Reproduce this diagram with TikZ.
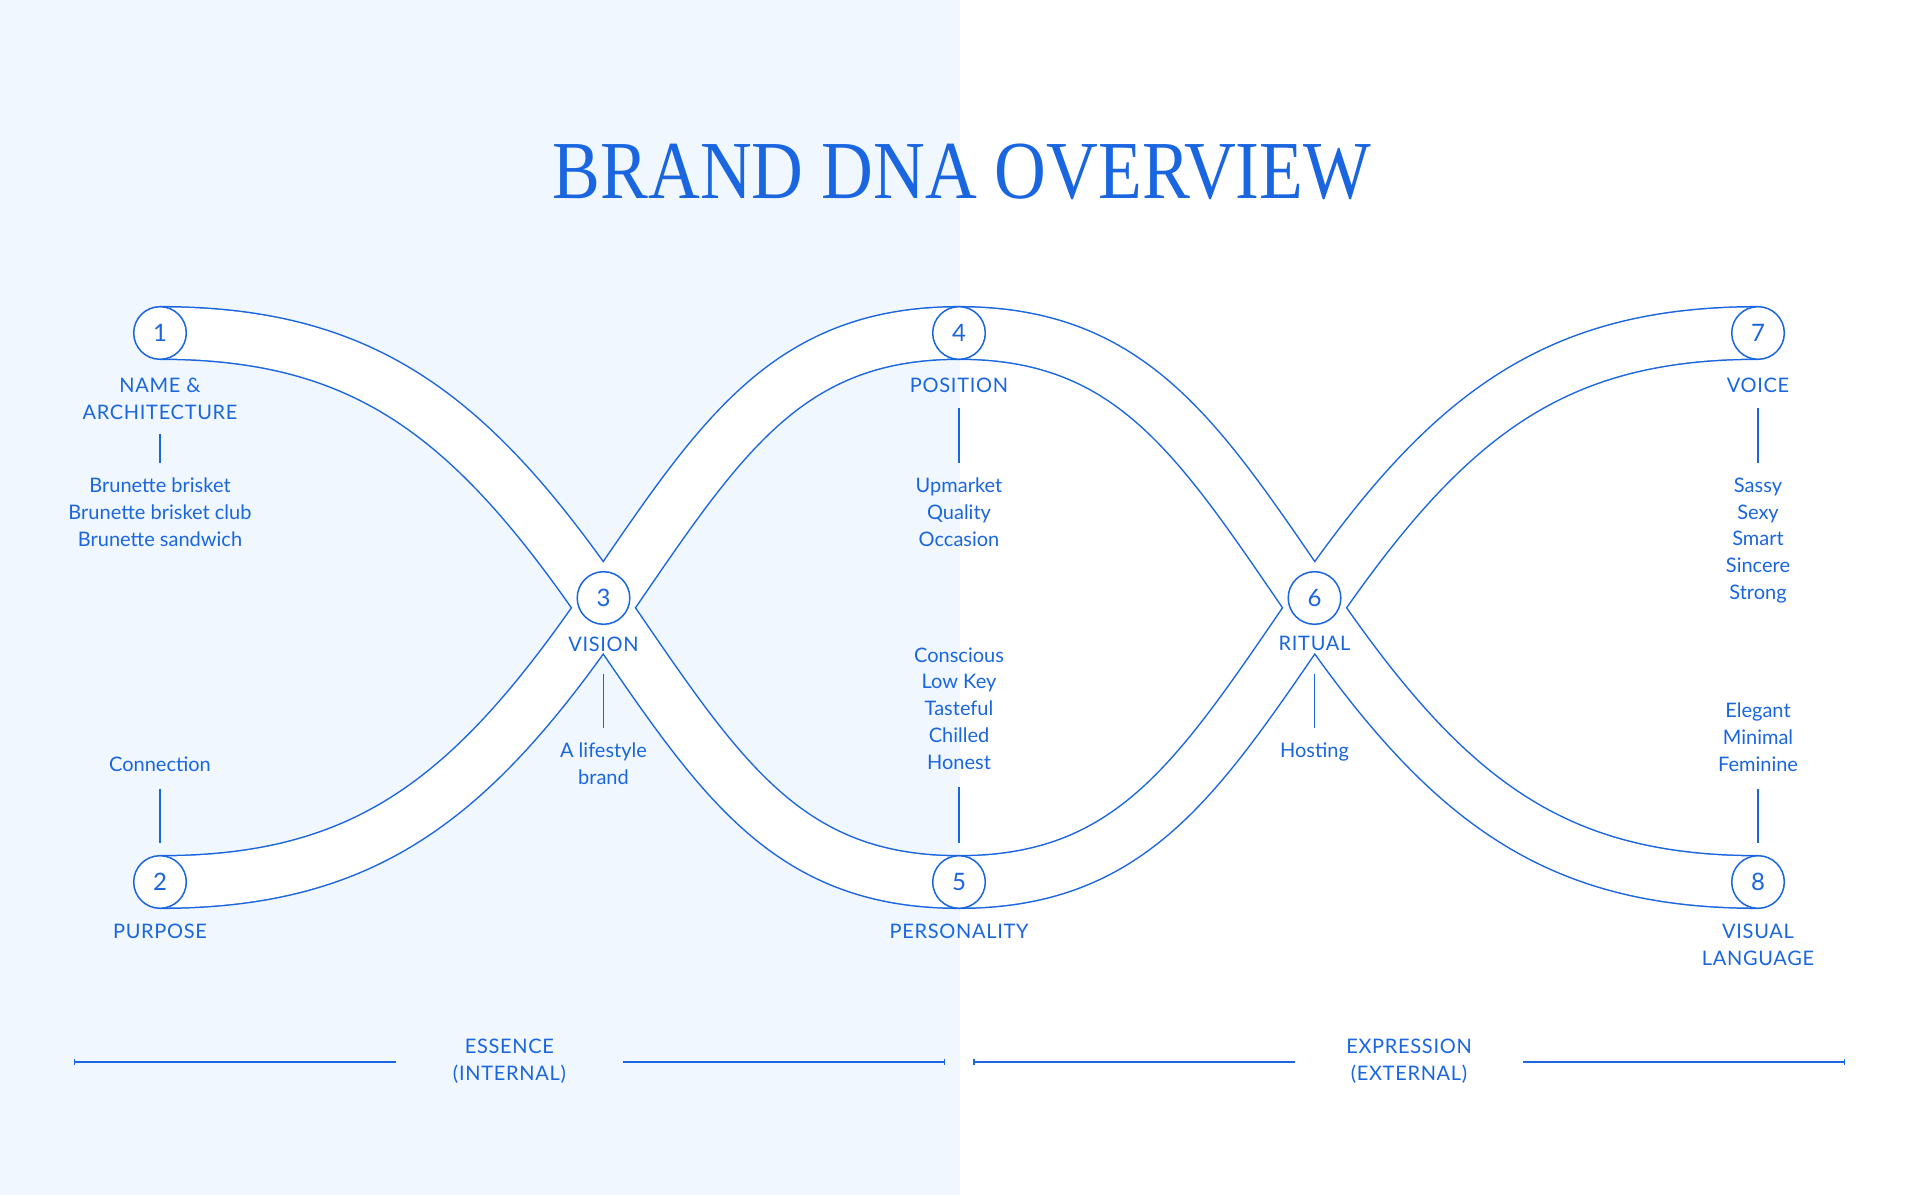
\documentclass[tikz,border=0pt]{standalone}
\usepackage{fontspec}
\setmainfont{Lato}
\newfontfamily\capsfont{Lato}[LetterSpace=3.5]
\newfontfamily\titlefont{Liberation Serif}[FakeStretch=0.87]
\usetikzlibrary{arrows.meta}
\definecolor{dnablue}{HTML}{1A66E0}
\definecolor{paleblue}{HTML}{F1F7FE}
\tikzset{
  num/.style={circle, draw=dnablue, fill=white, line width=.75pt, minimum size=26.3pt, inner sep=0pt, text=dnablue, font=\fontsize{12}{12}\selectfont},
  lbl/.style={anchor=north, inner sep=0pt, align=center, text=dnablue, font=\fontsize{10}{13.4}\selectfont},
  caps/.style={lbl, font=\capsfont\fontsize{10}{13.4}\selectfont},
  side/.style={lbl, minimum width=113.5pt},
  stem/.style={draw=dnablue, line width=.75pt, shorten <=7.3pt, shorten >=7pt},
  ribbon/.style={draw=dnablue, line width=27.05pt},
  ribbonfill/.style={draw=white, line width=25.55pt},
  rule/.style={draw=dnablue, line width=1pt},
}
\def\strandA{(p1) to[out=0,in=124.5,in looseness=1.15] (x1) to[out=-55.5,in=180,out looseness=1.15] (p5) to[out=0,in=-124.5,in looseness=1.15] (x2) to[out=55.5,in=180,out looseness=1.15] (p7)}
\def\strandB{(p2) to[out=0,in=-124.5,in looseness=1.15] (x1) to[out=55.5,in=180,out looseness=1.15] (p4) to[out=0,in=124.5,in looseness=1.15] (x2) to[out=-55.5,in=180,out looseness=1.15] (p8)}

\begin{document}
\begin{tikzpicture}[x=0.5pt,y=0.5pt]
	%%%%% START %%%%%
	\useasboundingbox (0,0) rectangle (1920,1195);
	\fill[white] (0,0) rectangle (1920,1195);
	\fill[paleblue] (0,0) rectangle (960,1195);
	
	\node[font=\titlefont\fontsize{41.2}{41.2}\selectfont, text=dnablue, anchor=base] (title) at (962,996) {BRAND DNA OVERVIEW};
	
	% centres of the strands
	\coordinate (p1) at (160,862);
	\coordinate (p2) at (160,313);
	\coordinate (x1) at (603.5,587.2);
	\coordinate (p4) at (959,862);
	\coordinate (p5) at (959,313);
	\coordinate (x2) at (1314.5,587.2);
	\coordinate (p7) at (1758,862);
	\coordinate (p8) at (1758,313);
	
	\draw[ribbon] \strandA \strandB;
	\draw[ribbonfill] \strandA \strandB;
	
	\node[num] (c1) at (p1) {1};
	\node[num] (c2) at (p2) {2};
	\node[num] (c3) at (603.5,597) {3};
	\node[num] (c4) at (p4) {4};
	\node[num] (c5) at (p5) {5};
	\node[num] (c6) at (1314.5,597) {6};
	\node[num] (c7) at (p7) {7};
	\node[num] (c8) at (p8) {8};
	
	\node[caps] (lab1) at (160,817.5) {NAME \&\\ARCHITECTURE};
	\node[caps] (lab4) at (959,817.5) {POSITION};
	\node[caps] (lab7) at (1758,817.5) {VOICE};
	\node[caps] (lab3) at (603.5,558.8) {VISION};
	\node[caps] (lab6) at (1314.5,558.8) {RITUAL};
	\node[caps] (lab2) at (160,271.4) {PURPOSE};
	\node[caps] (lab5) at (959,271.4) {PERSONALITY};
	\node[caps] (lab8) at (1758,271.4) {VISUAL\\LANGUAGE};
	
	\node[lbl] (list1) at (160,717.5) {Brunette brisket\\Brunette brisket club\\Brunette sandwich};
	\node[lbl] (list4) at (959,717.5) {Upmarket\\Quality\\Occasion};
	\node[lbl] (list7) at (1758,717.5) {Sassy\\Sexy\\Smart\\Sincere\\Strong};
	\node[lbl] (list3) at (603.5,452.8) {A lifestyle\\brand};
	\node[lbl] (list6) at (1314.5,453) {Hosting};
	\node[lbl] (list5) at (959,547.8) {Conscious\\Low Key\\Tasteful\\Chilled\\Honest};
	\node[lbl] (list2) at (160,438.8) {Connection};
	\node[lbl] (list8) at (1758,492.5) {Elegant\\Minimal\\Feminine};
	
	\draw[stem] (lab1) -- (list1);
	\draw[stem] (lab4) -- (list4);
	\draw[stem] (lab7) -- (list7);
	\draw[stem, shorten <=11pt] (lab3) -- (list3);
	\draw[stem, shorten <=11pt] (lab6) -- (list6);
	\draw[stem, shorten <=8.5pt, shorten >=6pt] (list2) -- (c2);
	\draw[stem, shorten <=8.5pt, shorten >=6pt] (list5) -- (c5);
	\draw[stem, shorten <=8.5pt, shorten >=6pt] (list8) -- (c8);
	
	% essence / expression
	\node[side, font=\capsfont\fontsize{10}{13.4}\selectfont] (ess) at (509.4,156.4) {ESSENCE\\(INTERNAL)};
	\node[side, font=\capsfont\fontsize{10}{13.4}\selectfont] (expr) at (1409,156.4) {EXPRESSION\\(EXTERNAL)};
	\coordinate (essL) at (73.5,132.7);
	\coordinate (essR) at (945,132.7);
	\coordinate (exprL) at (973.4,132.7);
	\coordinate (exprR) at (1845,132.7);
	\draw[rule, {Bar[width=3pt,line width=.6pt]}-] (essL) -- (essL -| ess.west);
	\draw[rule, -{Bar[width=3pt,line width=.6pt]}] (essR -| ess.east) -- (essR);
	\draw[rule, {Bar[width=3pt,line width=.6pt]}-] (exprL) -- (exprL -| expr.west);
	\draw[rule, -{Bar[width=3pt,line width=.6pt]}] (exprR -| expr.east) -- (exprR);
	%%%%% END %%%%%
\end{tikzpicture}
\end{document}
